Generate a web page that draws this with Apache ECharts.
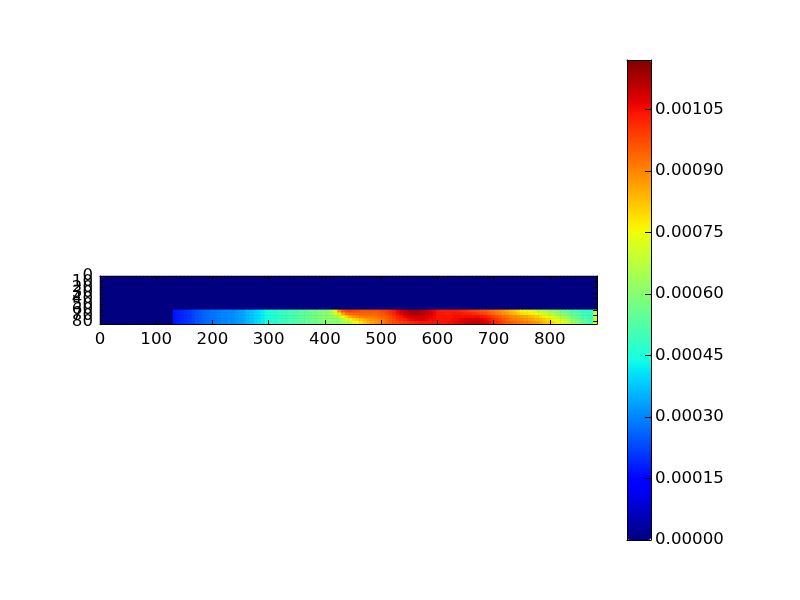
<!DOCTYPE html>
<html><head><meta charset="utf-8">
<style>html,body{margin:0;padding:0;background:#fff}#c{width:800px;height:600px}</style>
<script src="https://cdn.jsdelivr.net/npm/echarts@6/dist/echarts.min.js"></script>
</head><body><div id="c"></div>
<script>
// Values are in units of 1e-5; strip columns start at x=130 with step 6.5, rows step 5 from row 60.
const unit = 1e-5;
const colStep = 6.5, rowStep = 5, xMax = 884, yMax = 85, vMax = 0.00117;
const stripStartColumn = 20, stripStartRow = 12;
const leftPart = [17,18,19,20,21,22,24,25,26,27,28,28,29,30,30,31,31,32,33,34,36,37,39,40,42,44,45,46,47,48,49,50,51,52,53,54,55,56,57,58,59,60,61];
const row60 = [66,76,88,95,98,99,98,97,96,96,96,96,96,97,98,99,101,103,106,109,111,113,114,114,113,112,110,108,106,104,103,103,103,103,103,102,101,100,99,98,97,96,95,93,92,90,89,87,85,83,81,79,76,75,74,73,71,69,67,65,63,61,60,58,56,54,53,51,50,49,48,48,68];
const row65 = [64,70,78,86,91,93,94,94,94,94,94,94,94,95,96,98,100,102,105,107,110,111,112,112,112,111,109,108,106,104,104,103,103,104,104,104,103,103,102,101,100,99,98,96,94,92,91,89,87,85,83,81,79,78,77,76,74,72,70,68,66,64,62,60,58,56,54,53,51,50,49,49,68];
const row70 = [61,64,68,74,80,84,87,89,90,91,91,91,92,93,94,95,97,99,102,104,106,108,109,110,110,109,108,107,105,104,104,104,104,104,105,105,105,105,105,105,105,104,103,101,99,97,95,93,92,90,89,88,87,86,84,83,81,79,77,75,73,70,68,65,63,60,58,55,53,51,50,49,69];
const row75 = [60,61,64,68,72,76,79,81,83,85,87,88,89,90,92,94,96,98,100,102,103,105,106,107,107,107,106,105,105,104,104,104,104,105,105,106,107,107,108,108,108,107,106,104,102,100,98,96,94,92,91,90,89,88,87,86,84,83,81,79,77,74,72,70,67,64,61,58,55,53,51,50,70];
const row80 = [60,60,61,63,65,68,72,75,78,81,84,86,88,89,91,94,96,97,98,99,100,101,102,103,104,104,104,104,104,104,104,104,105,105,106,107,108,109,110,110,110,109,108,106,104,102,100,98,96,95,94,93,92,91,90,89,88,86,84,82,80,78,76,74,71,68,64,61,58,55,52,50,72];
const stripRows = [row60,row65,row70,row75,row80];
const xTickInterval = 100, yTickInterval = 10, cbTickInterval = 0.00015;

const nCols = Math.round(xMax/colStep), nRows = Math.round(yMax/rowStep);
const xCats = Array.from({length:nCols},(_,i)=>i*colStep);
const yCats = Array.from({length:nRows},(_,i)=>i*rowStep);
const cells = [];
for (let r=0;r<nRows;r++) for (let c=0;c<nCols;c++){
  let v = 0;
  if (r>=stripStartRow && c>=stripStartColumn) v = [...leftPart,...stripRows[r-stripStartRow]][c-stripStartColumn]*unit;
  cells.push([c,r,v]);
}
function seg(pts,t){for(let i=1;i<pts.length;i++){if(t<=pts[i][0]){const a=pts[i-1],b=pts[i];return a[1]+(b[1]-a[1])*(t-a[0])/(b[0]-a[0]);}}return pts[pts.length-1][1];}
const jetR=[[0,0],[.35,0],[.66,1],[.89,1],[1,.5]],jetG=[[0,0],[.125,0],[.375,1],[.64,1],[.91,0],[1,0]],jetB=[[0,.5],[.11,1],[.34,1],[.65,0],[1,0]];
const jet=[];for(let i=0;i<=128;i++){const t=i/128;jet.push(`rgb(${Math.round(255*seg(jetR,t))},${Math.round(255*seg(jetG,t))},${Math.round(255*seg(jetB,t))})`);}

const font={fontFamily:'DejaVu Sans',fontSize:16.67,color:'#000'};
const line={lineStyle:{color:'#000',width:1}};
const frameAxis=(extra)=>Object.assign({axisLine:{show:true,onZero:false,...line},axisTick:{show:true,inside:true,length:4,...line},splitLine:{show:false},z:6},extra);
const plain=v=>(v%10===0?String(v):'');
const chart=echarts.init(document.getElementById('c'),null,{renderer:'canvas'});
chart.setOption({
  animation:false,backgroundColor:'#fff',
  grid:[{left:100,top:276,width:497,height:48,show:true,backgroundColor:'#00007f',borderWidth:0},{left:627,top:60,width:24,height:480}],
  xAxis:[
    {type:'category',gridIndex:0,data:xCats,show:false},
    frameAxis({type:'value',gridIndex:0,position:'bottom',min:0,max:xMax,interval:xTickInterval,axisLabel:{...font,margin:7,showMinLabel:true,showMaxLabel:false,formatter:plain}}),
    frameAxis({type:'value',gridIndex:0,position:'top',min:0,max:xMax,interval:xTickInterval,axisLabel:{show:false}}),
    {type:'value',gridIndex:1,min:0,max:1,position:'bottom',axisLine:{show:true,onZero:false,...line},axisTick:{show:false},axisLabel:{show:false},splitLine:{show:false},z:6},
    {type:'value',gridIndex:1,min:0,max:1,position:'top',axisLine:{show:true,onZero:false,...line},axisTick:{show:false},axisLabel:{show:false},splitLine:{show:false},z:6}
  ],
  yAxis:[
    {type:'category',gridIndex:0,data:yCats,inverse:true,show:false},
    frameAxis({type:'value',gridIndex:0,position:'left',inverse:true,min:0,max:yMax,interval:yTickInterval,axisLabel:{...font,margin:7,showMinLabel:false,showMaxLabel:false,formatter:plain}}),
    frameAxis({type:'value',gridIndex:0,position:'right',inverse:true,min:0,max:yMax,interval:yTickInterval,axisLabel:{show:false}}),
    {type:'value',gridIndex:1,position:'right',min:0,max:vMax,interval:cbTickInterval,axisLine:{show:true,onZero:false,...line},axisTick:{show:true,inside:true,length:6,...line},splitLine:{show:false},z:6,
      axisLabel:{...font,margin:4,padding:[2,0,0,0],showMinLabel:true,showMaxLabel:false,formatter:v=>v.toFixed(5)}},
    {type:'value',gridIndex:1,position:'left',min:0,max:vMax,axisLine:{show:true,onZero:false,...line},axisTick:{show:false},axisLabel:{show:false},splitLine:{show:false},z:6},
    {type:'value',gridIndex:0,position:'left',inverse:true,min:0,max:yMax,interval:yMax,axisLine:{show:false},axisTick:{show:false},splitLine:{show:false},z:6,
      axisLabel:{...font,margin:7,showMinLabel:true,showMaxLabel:false,formatter:v=>(v===0?'0':'')}}
  ],
  visualMap:{type:'continuous',min:0,max:vMax,seriesIndex:0,left:627,top:60,itemWidth:24,itemHeight:480,padding:0,calculable:false,hoverLink:false,showLabel:false,text:null,inRange:{color:jet}},
  series:[{type:'heatmap',xAxisIndex:0,yAxisIndex:0,data:cells,itemStyle:{borderWidth:0},progressive:0,silent:true}]
});
</script></body></html>
